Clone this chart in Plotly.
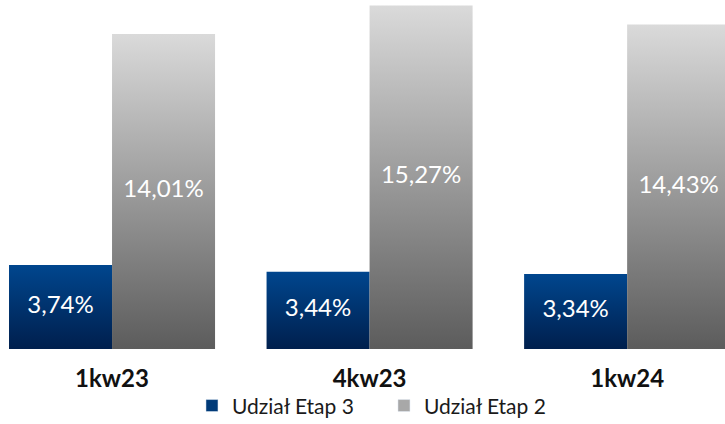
import plotly.graph_objects as go

categories = ["1kw23", "4kw23", "1kw24"]
etap3 = [3.74, 3.44, 3.34]
etap2 = [14.01, 15.27, 14.43]
labels3 = ["3,74%", "3,44%", "3,34%"]
labels2 = ["14,01%", "15,27%", "14,43%"]

series = [
    ("Udział Etap 3", etap3, labels3, -0.4, 0.0, [[0, "#001f4d"], [1, "#00468e"]], "#003a78"),
    ("Udział Etap 2", etap2, labels2, 0.0, 0.4, [[0, "#5c5c5c"], [1, "#dadada"]], "#a8a8a8"),
]

FONT = "Lato"
fig = go.Figure()

for name, vals, labs, x0, x1, cs, solid in series:
    for i, v in enumerate(vals):
        fig.add_trace(go.Scatter(
            x=[i + x0, i + x1, i + x1, i + x0, i + x0],
            y=[0, 0, v, v, 0],
            mode="lines", fill="toself",
            line=dict(width=0),
            fillgradient=dict(type="vertical", colorscale=cs),
            showlegend=False, hoverinfo="skip",
        ))
    fig.add_trace(go.Scatter(
        x=[i + (x0 + x1) / 2 for i in range(len(vals))],
        y=[v / 2 for v in vals],
        mode="text", text=labs,
        textfont=dict(family=FONT, size=24, color="white"),
        showlegend=False, hoverinfo="skip",
    ))
    fig.add_trace(go.Bar(x=[None], y=[None], name=name, marker=dict(color=solid)))

fig.update_layout(
    width=725, height=424,
    margin=dict(l=0, r=0, t=0, b=75, autoexpand=False),
    paper_bgcolor="white", plot_bgcolor="white",
    showlegend=True,
    legend=dict(orientation="h", x=0.2648, xanchor="left", yref="paper", y=-0.163, yanchor="middle",
                bgcolor="rgba(0,0,0,0)",
                font=dict(family=FONT, size=21, color="#1a1a1a"),
                itemwidth=30, traceorder="normal", entrywidth=147, entrywidthmode="pixels"),
    xaxis=dict(range=[-0.435, 2.38], tickvals=[0, 1, 2], ticktext=categories,
               showgrid=False, zeroline=False, showline=False, ticks="",
               ticklabelstandoff=13, automargin=False,
               tickfont=dict(family=FONT, size=24, color="#111111", weight="bold")),
    yaxis=dict(range=[0, 15.52], visible=False),
)

fig.write_html("out.html", config={"displayModeBar": False},
               post_script="document.body.style.margin='0';")
